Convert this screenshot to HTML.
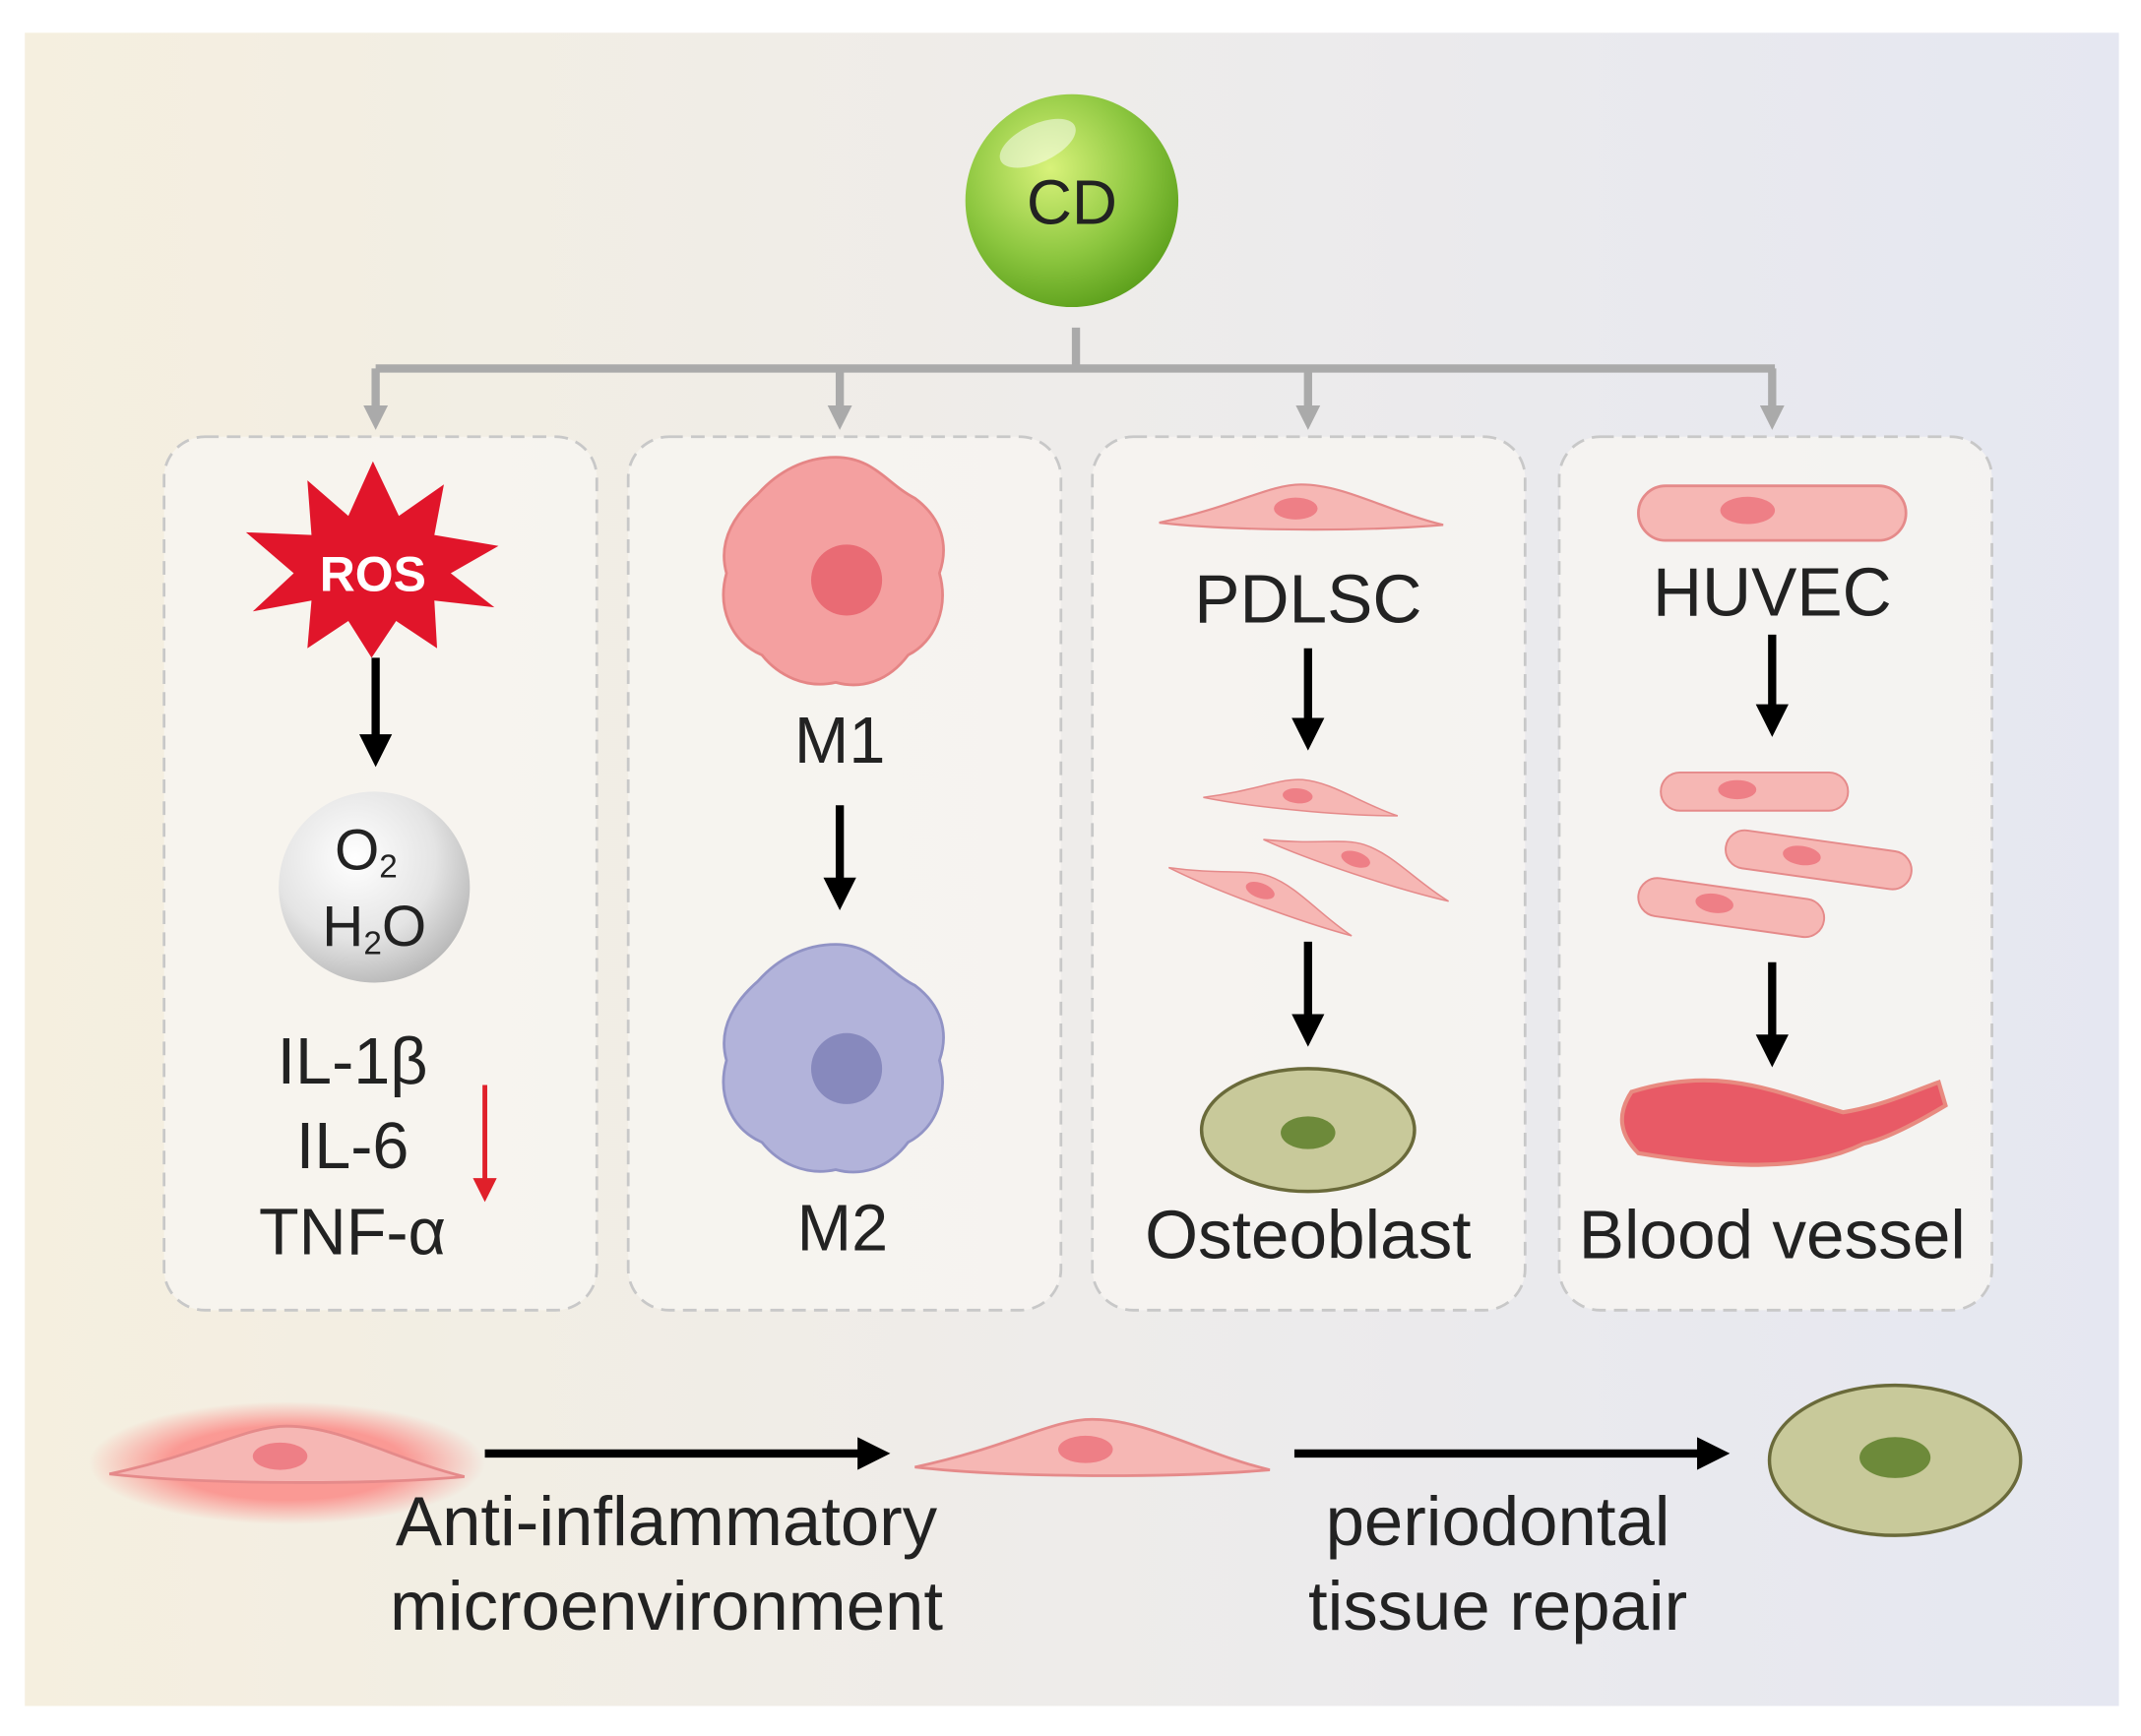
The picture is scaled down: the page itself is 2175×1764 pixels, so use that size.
<!DOCTYPE html>
<html><head><meta charset="utf-8"><style>html,body{margin:0;padding:0;background:#fff}svg{display:block}</style></head>
<body>
<svg width="2175" height="1764" viewBox="0 0 1568 1272" xmlns="http://www.w3.org/2000/svg" font-family="Liberation Sans, Arial, sans-serif">
<defs>
<linearGradient id="bg" x1="0" x2="1" y1="0" y2="0"><stop offset="0" stop-color="#f5efdf"/><stop offset="0.5" stop-color="#eeecea"/><stop offset="1" stop-color="#e5e7f1"/></linearGradient>
<radialGradient id="green" cx="0.4" cy="0.35" r="0.7"><stop offset="0" stop-color="#d8f27a"/><stop offset="0.6" stop-color="#8cc63f"/><stop offset="1" stop-color="#5a9e1a"/></radialGradient>
<radialGradient id="gray" cx="0.4" cy="0.35" r="0.7"><stop offset="0" stop-color="#ffffff"/><stop offset="0.6" stop-color="#e4e4e4"/><stop offset="1" stop-color="#b5b5b5"/></radialGradient>
<radialGradient id="glow"><stop offset="0.6" stop-color="#ff6060" stop-opacity="0.6"/><stop offset="1" stop-color="#ff6060" stop-opacity="0"/></radialGradient>
<marker id="ah" markerWidth="4" markerHeight="4" refX="2" refY="2" orient="auto" markerUnits="strokeWidth"><path d="M0,0L4,2L0,4z" fill="#000"/></marker>
<marker id="gh" markerWidth="3" markerHeight="3" refX="1.5" refY="1.5" orient="auto" markerUnits="strokeWidth"><path d="M0,0L3,1.5L0,3z" fill="#aaa"/></marker>
<marker id="rh" markerWidth="5" markerHeight="5" refX="2.5" refY="2.5" orient="auto" markerUnits="strokeWidth"><path d="M0,0L5,2.5L0,5z" fill="#e0202a"/></marker>
<g id="spindle"><path d="M-130,10 C-60,-5 -30,-25 0,-25 C40,-25 80,0 130,12 C60,18 -60,18 -130,10z" fill="#f6b7b4" stroke="#e58a8a" stroke-width="2"/><ellipse cx="-5" cy="-3" rx="20" ry="10" fill="#ee7f86"/></g>
<g id="flat"><rect x="-98" y="-20" width="196" height="40" rx="20" fill="#f6b7b4" stroke="#e58a8a" stroke-width="2"/><ellipse cx="-18" cy="-2" rx="20" ry="10" fill="#ee7f86"/></g>
</defs>
<rect width="1568" height="1272" fill="#fff"/>
<rect x="18" y="24" width="1534" height="1226" fill="url(#bg)"/>
<circle cx="785" cy="147" r="78" fill="url(#green)"/>
<ellipse cx="760" cy="105" rx="30" ry="14" fill="#fff" opacity="0.5" transform="rotate(-25 760 105)"/>
<text x="785" y="164" font-size="46" text-anchor="middle" fill="#222">CD</text>
<g stroke="#aaa" stroke-width="6" fill="none">
<path d="M788,240V270M275,270H1300"/>
<path d="M275,270V306" marker-end="url(#gh)"/><path d="M615,270V306" marker-end="url(#gh)"/><path d="M958,270V306" marker-end="url(#gh)"/><path d="M1298,270V306" marker-end="url(#gh)"/>
</g>
<g fill="#f7f5f1" fill-opacity="0.8" stroke="#c8c8c8" stroke-width="2" stroke-dasharray="10 6">
<rect x="120" y="320" width="317" height="640" rx="30"/><rect x="460" y="320" width="317" height="640" rx="30"/><rect x="800" y="320" width="317" height="640" rx="30"/><rect x="1142" y="320" width="317" height="640" rx="30"/>
</g>
<polygon points="273,338 292,378 325,355 318,392 365,400 330,420 362,445 318,440 320,475 290,455 272,482 255,455 225,475 228,440 185,448 215,420 180,390 228,392 225,352 255,378" fill="#e1152a"/>
<text x="273" y="433" font-size="36" font-weight="bold" text-anchor="middle" fill="#fff">ROS</text>
<g stroke="#000" stroke-width="6"><path d="M275,482V550" marker-end="url(#ah)"/><path d="M615,590V655" marker-end="url(#ah)"/><path d="M958,475V538" marker-end="url(#ah)"/><path d="M958,690V755" marker-end="url(#ah)"/><path d="M1298,465V528" marker-end="url(#ah)"/><path d="M1298,705V770" marker-end="url(#ah)"/><path d="M355,1065H640" marker-end="url(#ah)"/><path d="M948,1065H1255" marker-end="url(#ah)"/></g>
<circle cx="274" cy="650" r="70" fill="url(#gray)"/>
<text x="268" y="637" font-size="42" text-anchor="middle" fill="#222">O<tspan font-size="24" dy="6">2</tspan></text>
<text x="274" y="693" font-size="42" text-anchor="middle" fill="#222">H<tspan font-size="24" dy="6">2</tspan><tspan dy="-6">O</tspan></text>
<g font-size="48" text-anchor="middle" fill="#222"><text x="258" y="794">IL-1β</text><text x="258" y="856">IL-6</text><text x="258" y="919">TNF-α</text></g>
<path d="M355,795V872" stroke="#e0202a" stroke-width="3.5" marker-end="url(#rh)"/>
<path d="M612,335 C640,335 650,355 670,365 C690,380 695,400 688,420 C695,445 685,470 665,480 C650,500 630,505 612,500 C590,505 570,495 558,480 C535,470 525,445 532,420 C525,395 540,375 555,362 C570,345 590,335 612,335z" fill="#f4a0a0" stroke="#e58585" stroke-width="2"/>
<circle cx="620" cy="425" r="26" fill="#e96b74"/>
<text x="615" y="559" font-size="48" text-anchor="middle" fill="#222">M1</text>
<path d="M612,692 C640,692 650,712 670,722 C690,737 695,757 688,777 C695,802 685,827 665,837 C650,857 630,862 612,857 C590,862 570,852 558,837 C535,827 525,802 532,777 C525,752 540,732 555,719 C570,702 590,692 612,692z" fill="#b2b3da" stroke="#9193c5" stroke-width="2"/>
<circle cx="620" cy="783" r="26" fill="#8789bd"/>
<text x="617" y="916" font-size="48" text-anchor="middle" fill="#222">M2</text>
<use href="#spindle" transform="translate(953,375) scale(0.8)"/>
<text x="958" y="456" font-size="50" text-anchor="middle" fill="#222">PDLSC</text>
<use href="#spindle" transform="translate(953,585) scale(0.55) rotate(5)"/>
<use href="#spindle" transform="translate(995,632) scale(0.55) rotate(18)"/>
<use href="#spindle" transform="translate(925,655) scale(0.55) rotate(20)"/>
<ellipse cx="958" cy="828" rx="78" ry="45" fill="#c8c99a" stroke="#6a6a3a" stroke-width="2.5"/>
<ellipse cx="958" cy="830" rx="20" ry="12" fill="#6d8a3a"/>
<text x="958" y="922" font-size="50" text-anchor="middle" fill="#222">Osteoblast</text>
<use href="#flat" transform="translate(1298,376)"/>
<text x="1298" y="451" font-size="50" text-anchor="middle" fill="#222">HUVEC</text>
<use href="#flat" transform="translate(1285,580) scale(0.7)"/>
<use href="#flat" transform="translate(1332,630) scale(0.7) rotate(8)"/>
<use href="#flat" transform="translate(1268,665) scale(0.7) rotate(8)"/>
<path d="M1195,800 C1260,780 1300,800 1350,815 C1380,810 1400,800 1420,793 L1425,810 C1400,825 1380,835 1365,838 C1320,860 1260,855 1200,845 C1185,830 1185,815 1195,800z" fill="#e85a66" stroke="#e88a80" stroke-width="3"/>
<text x="1298" y="922" font-size="50" text-anchor="middle" fill="#222">Blood vessel</text>
<ellipse cx="210" cy="1072" rx="145" ry="45" fill="url(#glow)"/>
<use href="#spindle" transform="translate(210,1070)"/>
<use href="#spindle" transform="translate(800,1065)"/>
<ellipse cx="1388" cy="1070" rx="92" ry="55" fill="#c8c99a" stroke="#6a6a3a" stroke-width="2.5"/>
<ellipse cx="1388" cy="1068" rx="26" ry="15" fill="#6d8a3a"/>
<g font-size="51" text-anchor="middle" fill="#222"><text x="488" y="1132">Anti-inflammatory</text><text x="488" y="1194">microenvironment</text><text x="1097" y="1132">periodontal</text><text x="1097" y="1194">tissue repair</text></g>
</svg>
</body></html>
